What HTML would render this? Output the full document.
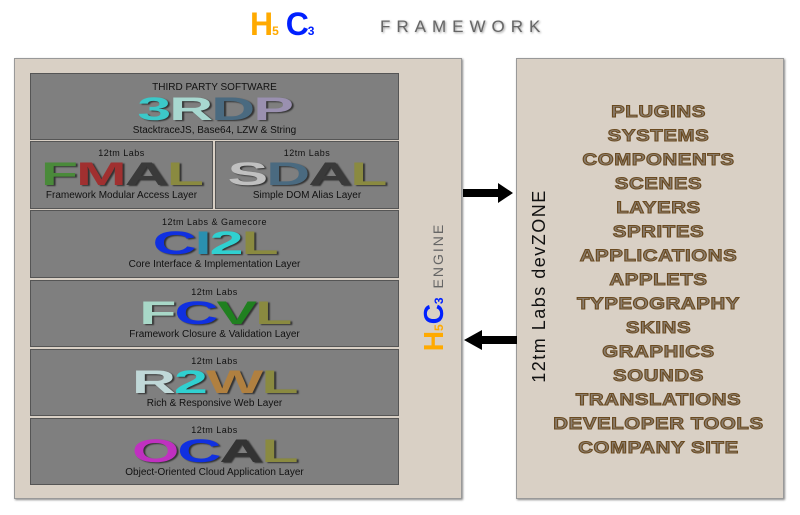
<!DOCTYPE html>
<html><head><meta charset="utf-8"><style>
*{margin:0;padding:0;box-sizing:border-box}
body{width:800px;height:515px;background:#fff;position:relative;overflow:hidden;font-family:"Liberation Sans",sans-serif}
.abs{position:absolute}
.panel{position:absolute;background:#d9d0c5;border:1px solid #999;box-shadow:1px 1px 2px #888}
.box{position:absolute;background:#7f7f7f;border:1px solid #555;text-align:center;color:#111}
.small{font-size:10px;line-height:12px}
.lab{font-size:9px;letter-spacing:0.5px;line-height:11px}
.big{font-weight:bold;font-size:32px;line-height:30px;display:inline-block;transform:scaleX(1.9);letter-spacing:-1px;text-shadow:1px 1px 1px #333}
.list{position:absolute;left:516px;width:285px;top:100px;text-align:center}
.list div{font-size:17px;font-weight:bold;height:24px;line-height:24px;color:#8a7e70;-webkit-text-stroke:1px #6a4a20;letter-spacing:0.5px;transform:scaleX(1.2)}
</style></head><body>
<div class="abs" style="left:250px;top:6px;font-size:32px;font-weight:bold;letter-spacing:-1px"><span style="color:#ffaa00">H<span style="font-size:12px">5</span></span>&nbsp;<span style="color:#0020ff">C<span style="font-size:12px">3</span></span></div>
<div class="abs" style="left:380px;top:17px;font-size:17px;color:#666;letter-spacing:6px;text-shadow:1px 1px 2px #999">FRAMEWORK</div>

<div class="panel" style="left:14px;top:58px;width:448px;height:441px"></div>
<div class="panel" style="left:516px;top:58px;width:268px;height:441px"></div>

<div class="box" style="left:30px;top:73px;width:369px;height:67px"><div class="small" style="margin-top:8px">THIRD PARTY SOFTWARE</div><div class="big"><span style="color:#3cc8c8">3</span><span style="color:#a8d8d0">R</span><span style="color:#4a6a80">D</span><span style="color:#9a90b0">P</span></div><div class="small">StacktraceJS, Base64, LZW &amp; String</div></div>
<div class="box" style="left:30px;top:141px;width:183px;height:68px"><div class="lab" style="margin-top:6px">12tm Labs</div><div class="big"><span style="color:#4a8a3a">F</span><span style="color:#a03030">M</span><span style="color:#3a3a3a">A</span><span style="color:#8a8a40">L</span></div><div class="small">Framework Modular Access Layer</div></div>
<div class="box" style="left:215px;top:141px;width:184px;height:68px"><div class="lab" style="margin-top:6px">12tm Labs</div><div class="big"><span style="color:#c0c0c0">S</span><span style="color:#4a6a80">D</span><span style="color:#3a3a3a">A</span><span style="color:#8a8a40">L</span></div><div class="small">Simple DOM Alias Layer</div></div>
<div class="box" style="left:30px;top:210px;width:369px;height:68px"><div class="lab" style="margin-top:6px">12tm Labs &amp; Gamecore</div><div class="big"><span style="color:#1030e0">C</span><span style="color:#2a90b0">I</span><span style="color:#30d0d0">2</span><span style="color:#8a8a40">L</span></div><div class="small">Core Interface &amp; Implementation Layer</div></div>
<div class="box" style="left:30px;top:280px;width:369px;height:67px"><div class="lab" style="margin-top:6px">12tm Labs</div><div class="big"><span style="color:#a8d8c8">F</span><span style="color:#1030e0">C</span><span style="color:#208020">V</span><span style="color:#8a8a40">L</span></div><div class="small">Framework Closure &amp; Validation Layer</div></div>
<div class="box" style="left:30px;top:349px;width:369px;height:67px"><div class="lab" style="margin-top:6px">12tm Labs</div><div class="big"><span style="color:#c0d8d8">R</span><span style="color:#30d0d0">2</span><span style="color:#b08040">W</span><span style="color:#8a8a40">L</span></div><div class="small">Rich &amp; Responsive Web Layer</div></div>
<div class="box" style="left:30px;top:418px;width:369px;height:67px"><div class="lab" style="margin-top:6px">12tm Labs</div><div class="big"><span style="color:#c030c0">O</span><span style="color:#1030e0">C</span><span style="color:#333">A</span><span style="color:#8a8a40">L</span></div><div class="small">Object-Oriented Cloud Application Layer</div></div>

<div class="abs" style="left:330px;top:275px;width:200px;height:24px;transform:rotate(-90deg);transform-origin:100px 12px;white-space:nowrap;text-align:center">
<span style="font-size:28px;font-weight:bold;color:#ffaa00">H<span style="font-size:12px">5</span></span><span style="font-size:28px;font-weight:bold;color:#0020ff">C<span style="font-size:12px">3</span></span>&nbsp;&nbsp;<span style="font-size:14px;color:#666;letter-spacing:2px">ENGINE</span></div>

<div class="abs" style="left:430px;top:275px;width:220px;height:22px;transform:rotate(-90deg);transform-origin:110px 11px;white-space:nowrap;text-align:center;font-size:18px;color:#111;letter-spacing:1.5px">12tm Labs devZONE</div>

<svg class="abs" style="left:460px;top:180px" width="60" height="175">
<polygon points="3,9 38,9 38,3 53,13 38,23 38,17 3,17" fill="#000"/>
<polygon points="57,156 22,156 22,150 4,160 22,170 22,164 57,164" fill="#000"/>
</svg>

<div class="list">
<div>PLUGINS</div><div>SYSTEMS</div><div>COMPONENTS</div><div>SCENES</div><div>LAYERS</div><div>SPRITES</div><div>APPLICATIONS</div><div>APPLETS</div><div>TYPEOGRAPHY</div><div>SKINS</div><div>GRAPHICS</div><div>SOUNDS</div><div>TRANSLATIONS</div><div>DEVELOPER TOOLS</div><div>COMPANY SITE</div>
</div>
</body></html>
